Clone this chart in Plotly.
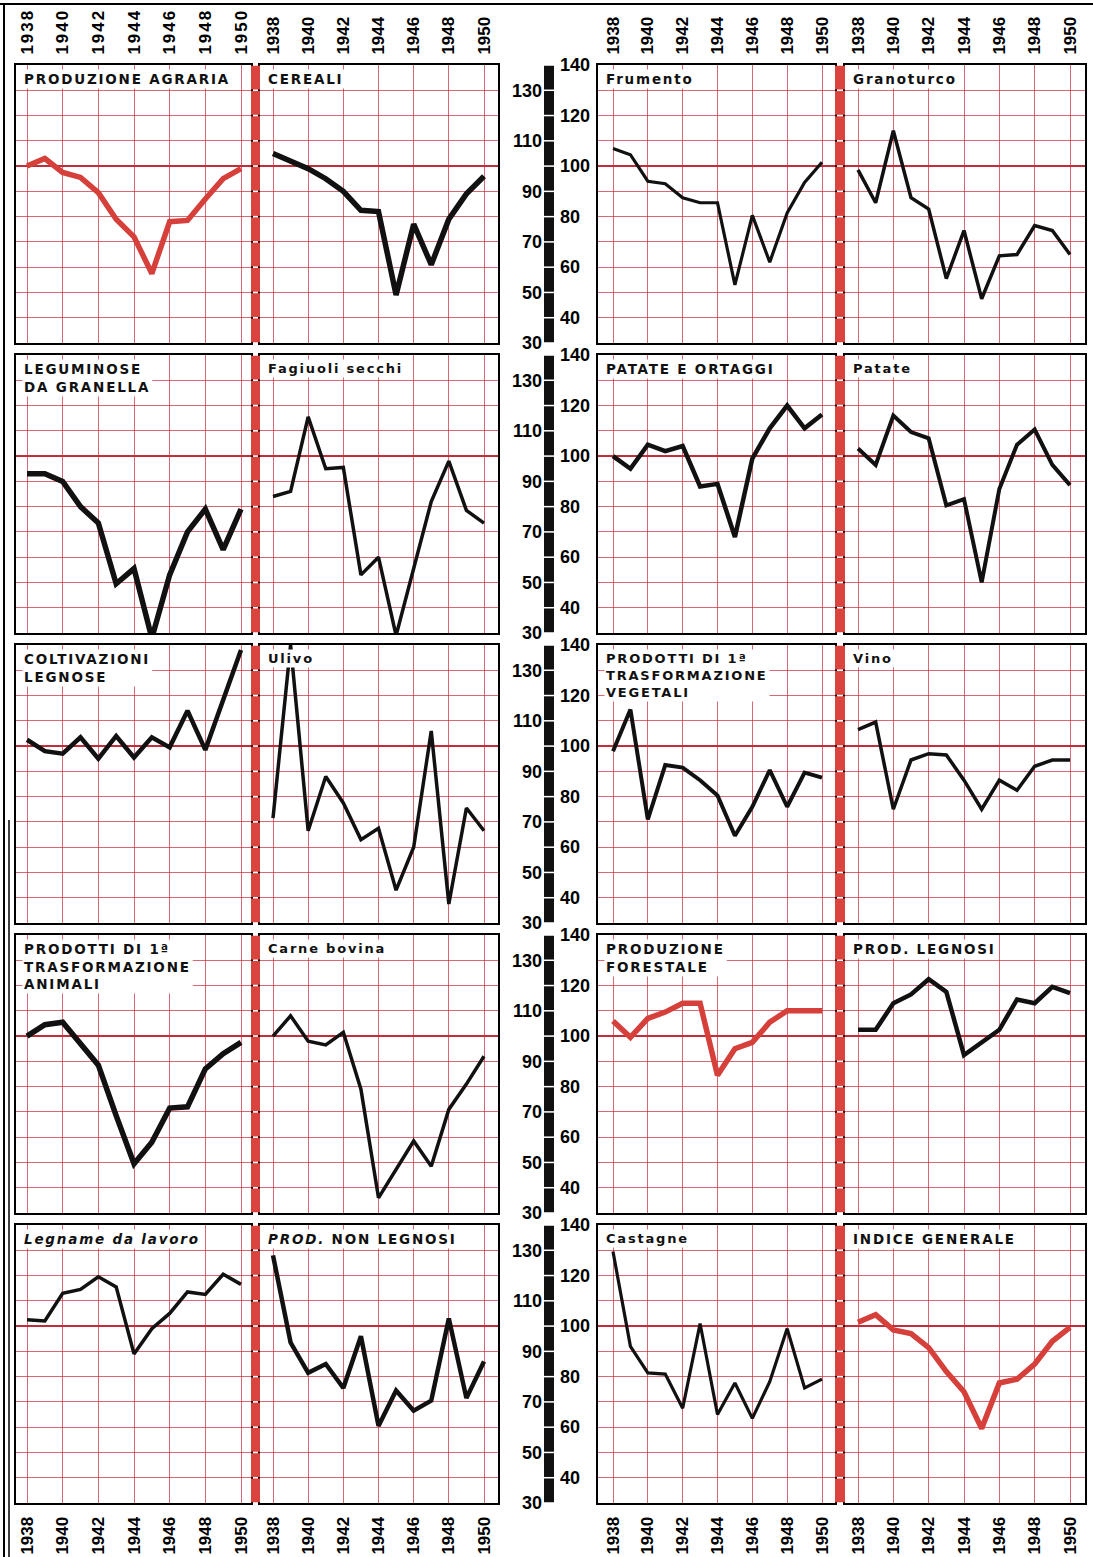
import plotly.graph_objects as go

# ---------------- data ----------------
years = list(range(1938, 1951))
year_ticks = [1938, 1940, 1942, 1944, 1946, 1948, 1950]
left_scale_ticks = [30, 50, 70, 90, 110, 130]
right_scale_ticks = [40, 60, 80, 100, 120, 140]

produzione_agraria = [100, 103, 97.5, 95.5, 89.5, 79, 72, 57.5, 78, 78.5, 87, 95, 99]
cereali = [105, 102, 99, 95, 90, 82.5, 82, 49, 77, 61, 79, 89, 96]
frumento = [107, 104.5, 94, 93, 87.5, 85.5, 85.5, 53, 80.5, 62, 81.5, 93.5, 101.5]
granoturco = [98.5, 85.5, 114, 87.5, 83, 55.5, 74.5, 47.5, 64.5, 65, 76.5, 74.5, 65]

leguminose = [93, 93, 90, 80, 73.5, 49.5, 55.5, 28, 53, 70, 79, 63, 79]
fagiuoli_secchi = [84, 86, 115.5, 95, 95.5, 53, 60, 29, 55.5, 82, 98, 78.5, 73.5]
patate_ortaggi = [100, 95, 104.5, 102, 104, 88, 89, 68, 99, 111, 120, 111, 116.5]
patate = [103, 96.5, 116, 109.5, 107, 80.5, 83, 50, 87, 104.5, 110.5, 96.5, 88.5]

coltivazioni_legnose = [102.5, 98, 97, 103.5, 95, 104, 95.5, 103.5, 99.5, 114, 98.5, 118, 138]
ulivo = [71.5, 140, 66.5, 88, 77.5, 63, 67.5, 43, 60, 106, 37.5, 75.5, 66.5]
trasf_vegetali = [98, 114.5, 71, 92.5, 91.5, 86.5, 80.5, 64.5, 76, 90.5, 76, 89.5, 87.5]
vino = [106.5, 109.5, 75, 94.5, 97, 96.5, 86.5, 75, 86.5, 82.5, 92, 94.5, 94.5]

trasf_animali = [100, 104.5, 105.5, 97, 88.5, 68.5, 49.5, 58, 71.5, 72, 87, 93, 97.5]
carne_bovina = [100, 108, 98, 96.5, 101.5, 79, 36, 47.5, 58.5, 48.5, 71, 81, 92]
produzione_forestale = [106, 99.5, 107, 109.5, 113, 113, 84.5, 95, 97.5, 105.5, 110, 110, 110]
prod_legnosi = [102.5, 102.5, 113, 116.5, 122.5, 117.5, 92.5, 97.5, 102.5, 114.5, 113, 119.5, 117]

legname_lavoro = [102.5, 102, 113, 114.5, 119.5, 115.5, 89, 99, 105, 113.5, 112.5, 120.5, 116.5]
prod_non_legnosi = [128, 93.5, 81.5, 85, 75.5, 96, 60.5, 74.5, 66.5, 70.5, 103, 71.5, 86]
castagne = [129.5, 92, 81.5, 81, 67.5, 101, 65, 77.5, 63.5, 78, 99, 75.5, 79]
indice_generale = [101.5, 104.5, 98.5, 97, 91.5, 82, 74, 59.5, 77.5, 79, 85, 94, 99.5]

titles = [
    "PRODUZIONE AGRARIA", "CEREALI", "Frumento", "Granoturco",
    "LEGUMINOSE<br>DA GRANELLA", "Fagiuoli secchi", "PATATE E ORTAGGI", "Patate",
    "COLTIVAZIONI<br>LEGNOSE", "Ulivo", "PRODOTTI DI 1ª<br>TRASFORMAZIONE<br>VEGETALI", "Vino",
    "PRODOTTI DI 1ª<br>TRASFORMAZIONE<br>ANIMALI", "Carne bovina", "PRODUZIONE<br>FORESTALE", "PROD. LEGNOSI",
    "Legname da lavoro", "<i>PROD.</i> NON LEGNOSI", "Castagne", "INDICE GENERALE",
]
series = [
    produzione_agraria, cereali, frumento, granoturco,
    leguminose, fagiuoli_secchi, patate_ortaggi, patate,
    coltivazioni_legnose, ulivo, trasf_vegetali, vino,
    trasf_animali, carne_bovina, produzione_forestale, prod_legnosi,
    legname_lavoro, prod_non_legnosi, castagne, indice_generale,
]

# ---------------- styles ----------------
RED = "#d5403b"
BLACK = "#111111"
colors = [RED, BLACK, BLACK, BLACK,
          BLACK, BLACK, BLACK, BLACK,
          BLACK, BLACK, BLACK, BLACK,
          BLACK, BLACK, RED, BLACK,
          BLACK, BLACK, BLACK, RED]
widths = [5.5, 5.5, 3.2, 3.5,
          5.5, 3.5, 4.5, 4,
          4.5, 3.5, 4, 3.5,
          5.5, 3.5, 5.5, 4.5,
          3.5, 4.5, 3.2, 5.5]
title_sizes = [13.5, 13.5, 13.5, 13.5,
               13.5, 13, 13.5, 13,
               13.5, 13, 13, 13,
               13.5, 13, 13.5, 13.5,
               13.5, 13.5, 13, 13.5]
title_italic = [False] * 16 + [True, False, False, False]

W, H = 1093, 1557
cols_px = [(16, 251, 27, 241), (260, 498, 273, 484), (598, 835, 613, 822), (845, 1085, 858, 1070)]
row_tops = [65, 355, 645, 935, 1225]
ROW_H = 278
YMIN, YMAX = 30, 140


def px(x):
    return x / W


def py(y):
    return 1 - y / H


def aid(n):
    return "" if n == 1 else str(n)


fig = go.Figure()
layout = dict(
    template="none",
    width=W, height=H, autosize=False,
    margin=dict(l=0, r=0, t=0, b=0, pad=0, autoexpand=False),
    paper_bgcolor="white", plot_bgcolor="white",
    showlegend=False,
)
shapes = []
annotations = []

GRID = "rgba(200,40,55,0.7)"
tick_font = dict(family="Liberation Sans", size=17, color="black", weight="bold")
scale_font = dict(family="Liberation Sans", size=18, color="black", weight="bold")

for r in range(5):
    top = row_tops[r]
    dom_y = [py(top + ROW_H), py(top)]
    for c in range(4):
        i = r * 4 + c + 1
        s = aid(i)
        left, right, p38, p50 = cols_px[c]
        ppy = (p50 - p38) / 12.0
        xlo = 1938 - (p38 - left) / ppy
        xhi = 1950 + (right - p50) / ppy
        layout[f"xaxis{s}"] = dict(
            domain=[px(left), px(right)], range=[xlo, xhi], anchor=f"y{s}",
            showgrid=True, gridcolor=GRID, gridwidth=1,
            tickmode="array", tickvals=year_ticks, ticktext=[str(t) for t in year_ticks],
            showline=True, mirror=True, linecolor="black", linewidth=2,
            ticks="", zeroline=False, fixedrange=True, automargin=False,
            showticklabels=(r == 0 or r == 4),
            side="top" if r == 0 else "bottom",
            tickangle=-90, tickfont=tick_font, ticklabelstandoff=5,
        )
        layout[f"yaxis{s}"] = dict(
            domain=dom_y, range=[YMIN, YMAX], anchor=f"x{s}",
            showgrid=True, gridcolor=GRID, gridwidth=1,
            tick0=30, dtick=10, showticklabels=False, ticks="",
            showline=True, mirror=True, linecolor="black", linewidth=2,
            zeroline=False, fixedrange=True, automargin=False,
        )

        fig.add_trace(go.Scatter(
            x=years, y=series[i - 1], mode="lines",
            line=dict(color=colors[i - 1], width=widths[i - 1]),
            xaxis=f"x{s}", yaxis=f"y{s}", hoverinfo="skip",
        ))
        shapes.append(dict(type="line", xref=f"x{s} domain", yref=f"y{s}",
                           x0=0, x1=1, y0=100, y1=100,
                           line=dict(color="rgba(185,25,40,0.9)", width=2), layer="below"))
        annotations.append(dict(
            text=titles[i - 1], xref="paper", yref="paper",
            x=px(left + 6), y=py(top + 4), xanchor="left", yanchor="top",
            align="left", showarrow=False, bgcolor="white", borderpad=1,
            font=dict(family="DejaVu Sans", size=title_sizes[i - 1], color="#111111",
                      weight="bold", style="italic" if title_italic[i - 1] else "normal"),
        ))

    # red separators (segmented)
    for (x0, x1, ref) in [(251, 260, r * 4 + 1), (835, 845, r * 4 + 3)]:
        for k in range(YMIN, YMAX, 10):
            shapes.append(dict(type="rect", xref="paper", yref=f"y{aid(ref)}",
                               x0=px(x0), x1=px(x1), y0=k + 0.3, y1=k + 9.7,
                               fillcolor="#d9443e", line=dict(width=0), layer="above"))
    # central black ruler
    for k in range(YMIN, YMAX, 10):
        shapes.append(dict(type="rect", xref="paper", yref=f"y{aid(r * 4 + 2)}",
                           x0=px(544), x1=px(554), y0=k + 0.3, y1=k + 9.7,
                           fillcolor="#111111", line=dict(width=0), layer="above"))

    yl = 21 + 2 * r
    yr = 22 + 2 * r
    layout[f"yaxis{yl}"] = dict(
        overlaying=f"y{aid(r * 4 + 2)}", anchor="free", position=px(542), side="left",
        domain=dom_y, range=[YMIN, YMAX], tickmode="array", tickvals=left_scale_ticks,
        showgrid=False, showline=False, zeroline=False, ticks="", automargin=False,
        tickfont=scale_font, fixedrange=True,
    )
    layout[f"yaxis{yr}"] = dict(
        overlaying=f"y{aid(r * 4 + 3)}", anchor="free", position=px(559), side="right",
        domain=dom_y, range=[YMIN, YMAX], tickmode="array", tickvals=right_scale_ticks,
        showgrid=False, showline=False, zeroline=False, ticks="", automargin=False,
        tickfont=scale_font, fixedrange=True,
    )
    fig.add_trace(go.Scatter(x=[None], y=[None], xaxis=f"x{aid(r * 4 + 2)}", yaxis=f"y{yl}",
                             mode="lines", hoverinfo="skip"))
    fig.add_trace(go.Scatter(x=[None], y=[None], xaxis=f"x{aid(r * 4 + 3)}", yaxis=f"y{yr}",
                             mode="lines", hoverinfo="skip"))

# outer frame lines
shapes.append(dict(type="line", xref="paper", yref="paper", x0=0, x1=1,
                   y0=py(4), y1=py(4), line=dict(color="black", width=2)))
shapes.append(dict(type="line", xref="paper", yref="paper", x0=px(4), x1=px(4),
                   y0=py(4), y1=0, line=dict(color="black", width=2)))
shapes.append(dict(type="line", xref="paper", yref="paper", x0=px(9), x1=px(9),
                   y0=py(820), y1=0, line=dict(color="black", width=1.5)))

layout["shapes"] = shapes
layout["annotations"] = annotations
fig.update_layout(**layout)

post_js = """
document.documentElement.style.margin='0';
document.body.style.margin='0';
document.body.style.padding='0';
document.body.style.overflow='hidden';
try {
  var gd = document.getElementById('{plot_id}');
  gd.querySelectorAll('g.xtick text').forEach(function(t){ t.style.letterSpacing='2px'; });
  gd.querySelectorAll('g.annotation').forEach(function(g){
    var t = g.querySelector('text.annotation-text');
    var r = g.querySelector('rect.bg');
    if (!t || !r) return;
    t.style.letterSpacing = '1.8px';
    var b = t.getBBox();
    var rx = parseFloat(r.getAttribute('x') || '0');
    r.setAttribute('width', (b.x + b.width - rx + 2).toString());
  });
} catch(e) {}
"""
fig.write_html("out.html", post_script=post_js, config={"displayModeBar": False})
